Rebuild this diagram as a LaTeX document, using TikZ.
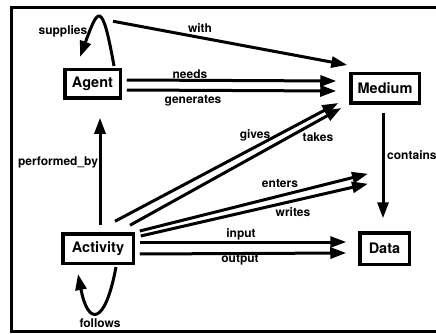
\documentclass[tikz,border=0pt]{standalone}
\usepackage{fontspec}
\setmainfont{TeX Gyre Heros}
\usetikzlibrary{arrows.meta,calc}
\begin{document}
\begin{tikzpicture}[x=1pt,y=-1pt,
  entity/.style={draw,line width=3.5pt,inner sep=0pt,font=\fontsize{14.5}{16}\selectfont\bfseries},
  rel/.style={line width=3pt,-{Triangle[length=16pt,width=11pt]}},
  lbl/.style={font=\fontsize{12}{13}\selectfont\bfseries,inner sep=0pt}]
  \useasboundingbox (0,0) rectangle (436,334);
  % frame: open on the right
  \draw[line width=3pt] (436,8) -- (11,8) -- (11,331) -- (436,331);

  % entities
  \node[entity,minimum width=55.5pt,minimum height=28.5pt] (agent) at (92.5,84) {Agent};
  \node[entity,minimum width=68.5pt,minimum height=29.5pt] (medium) at (385,88.5) {Medium};
  \node[entity,minimum width=70.5pt,minimum height=29.5pt] (activity) at (98,248.5) {Activity};
  \node[entity,minimum width=49.5pt,minimum height=31.5pt] (data) at (384.5,248.5) {Data};

  % self loops
  \draw[rel] ($(agent.north)+(21.5,-2)$) .. controls ($(agent.north)+(9.5,-69)$) and ($(agent.north)+(5.5,-60)$) .. ($(agent.north)+(-12.5,-11)$);
  \draw[rel] ($(activity.south)+(18,2)$) .. controls ($(activity.south)+(7,61)$) and ($(activity.south)+(-10,61)$) .. ($(activity.south)+(-20,9)$);

  % Agent -> Medium
  \draw[rel] ($(agent.north)+(20.5,-46.75)$) -- ($(medium.west)+(-1.75,-23.5)$);
  \draw[rel] ($(agent.east)+(4.75,-4)$) -- ($(medium.west)+(-12.75,-7.5)$);
  \draw[rel] ($(agent.east)+(4.75,6)$) -- ($(medium.west)+(-12.75,2.5)$);

  % Medium -> Data
  \draw[rel] ($(medium.south)+(-2,7.75)$) -- ($(data.north)+(-1.5,-12.75)$);

  % Activity -> Agent
  \draw[rel] ($(activity.north)+(2,-6.75)$) -- ($(agent.south)+(7.5,17.75)$);

  % Activity -> Medium
  \draw[rel] ($(activity.north)+(17,-10.75)$) -- ($(medium.west)+(-10.75,14.5)$);
  \draw[rel] ($(activity.north)+(32,-6.75)$) -- ($(medium.west)+(-7.75,19.5)$);

  % Activity -> Medium (lower pair)
  \draw[rel] ($(activity.east)+(4.75,-17.5)$) -- ($(medium.south)+(-17,68.75)$);
  \draw[rel] ($(activity.east)+(5.75,-12.5)$) -- ($(medium.south)+(-17,78.75)$);

  % Activity -> Data
  \draw[rel] ($(activity.east)+(4.75,-6.5)$) -- ($(data.west)+(-11.75,-6.5)$);
  \draw[rel] ($(activity.east)+(4.75,5.5)$) -- ($(data.west)+(-11.75,4.5)$);

  % labels
  \node[lbl] (l-supplies) at (63,31) {supplies};
  \node[lbl] (l-with) at (200,28) {with};
  \node[lbl] (l-needs) at (190,74) {needs};
  \node[lbl] (l-generates) at (193,101) {generates};
  \node[lbl] (l-gives) at (255,135) {gives};
  \node[lbl] (l-takes) at (318,137) {takes};
  \node[lbl,anchor=west] (l-contains) at (387,155) {contains};
  \node[lbl] (l-enters) at (280,184) {enters};
  \node[lbl] (l-writes) at (293,212) {writes};
  \node[lbl] (l-input) at (241,234) {input};
  \node[lbl] (l-output) at (240,260) {output};
  \node[lbl] (l-performed) at (58,162) {performed\_by};
  \node[lbl] (l-follows) at (100,323) {follows};
\end{tikzpicture}
\end{document}
